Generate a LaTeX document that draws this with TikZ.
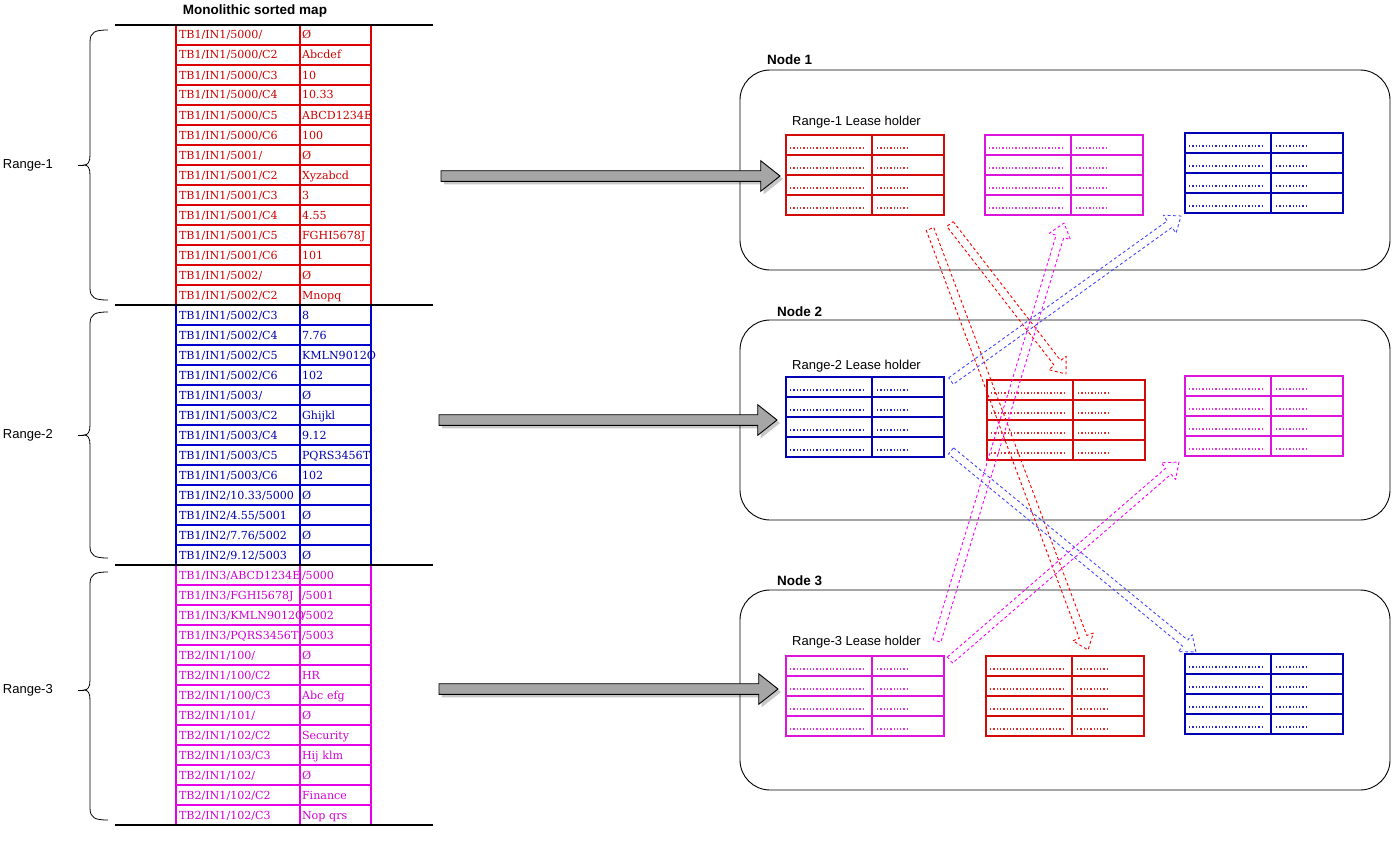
\documentclass[tikz,border=0pt]{standalone}
\usepackage{fontspec}
\setmainfont{Liberation Sans}
\newfontfamily\cellfont{DejaVu Serif}
\usetikzlibrary{calc}

\definecolor{mapred}{RGB}{221,0,0}
\definecolor{mapredtxt}{RGB}{204,0,0}
\definecolor{mapblue}{RGB}{0,0,204}
\definecolor{mapbluetxt}{RGB}{0,0,170}
\definecolor{mapmag}{RGB}{230,0,230}
\definecolor{mapmagtxt}{RGB}{210,0,210}
\definecolor{lhred}{RGB}{210,10,10}
\definecolor{lhblue}{RGB}{0,0,180}
\definecolor{lhmag}{RGB}{220,20,220}
\definecolor{arrowgray}{RGB}{166,166,166}
\definecolor{dashred}{RGB}{255,0,0}
\definecolor{dashmag}{RGB}{255,0,255}
\definecolor{dashblue}{RGB}{70,70,255}

\tikzset{
  cell/.style={draw, line width=1.6pt, outer sep=0pt, minimum height=20pt,
    inner ysep=0pt, inner xsep=3pt, text height=9.5pt, text depth=1.5pt,
    align=left, font=\cellfont\fontsize{11.1}{13}\selectfont},
  keycell/.style={cell, text width=118pt},
  valcell/.style={cell, inner xsep=2pt, text width=67pt},
  redrow/.style={draw=mapred, text=mapredtxt},
  bluerow/.style={draw=mapblue, text=mapbluetxt},
  magrow/.style={draw=mapmag, text=mapmagtxt},
  sepline/.style={line width=2.6pt, black},
  brace/.style={line width=0.8pt, black},
  rangelabel/.style={anchor=east, inner sep=1pt, font=\fontsize{13}{15}\selectfont},
  nodebox/.style={draw, line width=0.9pt, rounded corners=30pt, minimum width=650pt,
    minimum height=200pt, outer sep=0pt},
  nodetitle/.style={anchor=base west, inner sep=0pt, font=\bfseries\fontsize{13.5}{16}\selectfont},
  leaselabel/.style={anchor=base west, inner sep=0pt, font=\fontsize{13}{15}\selectfont},
  leasebox/.style={line width=1.6pt, minimum width=158pt, minimum height=80pt,
    inner sep=0pt, outer sep=0pt},
  leasedots/.style={line width=1.3pt, dash pattern=on 1.3pt off 2pt},
  feed/.style={fill=arrowgray, draw=black, line width=0.9pt, line join=miter},
  feedshadow/.style={fill=black, opacity=0.22},
  replica/.style={line width=0.9pt, dash pattern=on 3pt off 2.5pt, line join=round},
}

% one key/value row of the sorted map
\newcommand\maprow[4]{%
  \node[keycell,#2] (k#1) at (238,{35+20*#1}) {\mbox{#3}};
  \node[valcell,#2] (v#1) at (335.5,{35+20*#1}) {\mbox{#4}};}

% curly bracket: top, bottom, middle
\newcommand\rangebrace[3]{%
  \draw[brace] (108,#1) .. controls (95,#1) and (90,#1+2) .. (90,#1+12)
    -- (90,#3-10) .. controls (90,#3-3) and (88,#3) .. (84,#3)
    .. controls (88,#3) and (90,#3+3) .. (90,#3+10)
    -- (90,#2-12) .. controls (90,#2-2) and (95,#2) .. (108,#2);
  \draw[brace] (84,#3) -- (78,#3);}

% 4x2 lease-holder table: name, left, top, colour
\newcommand\leasetable[4]{%
  \node[leasebox, draw=#4, anchor=north west] (#1) at (#2,#3) {};
  \draw[#4, line width=1.6pt] ($(#1.north west)+(86,0)$) -- ($(#1.south west)+(86,0)$);
  \foreach \r in {20,40,60}
    \draw[#4, line width=1.6pt] ($(#1.north west)+(0,\r)$) -- ($(#1.north east)+(0,\r)$);
  \foreach \r in {13,33,53,73} {
    \draw[#4!85!white, leasedots] ($(#1.north west)+(4,\r)$) -- ($(#1.north west)+(77,\r)$);
    \draw[#4!85!white, leasedots] ($(#1.north west)+(91,\r)$) -- ($(#1.north west)+(123,\r)$);
  }}

% thick grey block arrow from tail to tip (horizontal)
\newcommand\feedarrow[2]{%
  \foreach \sty/\off in {feedshadow/3, feed/0}
    \path[\sty] ($(#1)+(\off,\off-5.3)$) -- ($(#2)+(\off-19.3,\off-5.3)$)
      -- ($(#2)+(\off-19.3,\off-15.3)$) -- ($(#2)+(\off,\off)$)
      -- ($(#2)+(\off-19.3,\off+15.3)$) -- ($(#2)+(\off-19.3,\off+5.3)$)
      -- ($(#1)+(\off,\off+5.3)$) -- cycle;}

% hollow dashed arrow: style, tail, tip
\newcommand\flexarrow[3]{%
  \path ($(#3)!14pt!(#2)$) coordinate (fh);
  \draw[replica,#1] ($(#2)!4pt!90:(#3)$) -- ($(fh)!4pt!90:(#3)$)
    -- ($(fh)!11pt!90:(#3)$) -- (#3) -- ($(fh)!11pt!-90:(#3)$)
    -- ($(fh)!4pt!-90:(#3)$) -- ($(#2)!4pt!-90:(#3)$) -- cycle;}

\begin{document}
\begin{tikzpicture}[x=1pt,y=-1pt]
\useasboundingbox (0,0) rectangle (1392,843);

% ---------- sorted map ----------
\node[font=\bfseries\fontsize{13.5}{16}\selectfont] (title) at (255,11) {Monolithic sorted map};

\maprow{0}{redrow}{TB1/IN1/5000/}{Ø}
\maprow{1}{redrow}{TB1/IN1/5000/C2}{Abcdef}
\maprow{2}{redrow}{TB1/IN1/5000/C3}{10}
\maprow{3}{redrow}{TB1/IN1/5000/C4}{10.33}
\maprow{4}{redrow}{TB1/IN1/5000/C5}{ABCD1234E}
\maprow{5}{redrow}{TB1/IN1/5000/C6}{100}
\maprow{6}{redrow}{TB1/IN1/5001/}{Ø}
\maprow{7}{redrow}{TB1/IN1/5001/C2}{Xyzabcd}
\maprow{8}{redrow}{TB1/IN1/5001/C3}{3}
\maprow{9}{redrow}{TB1/IN1/5001/C4}{4.55}
\maprow{10}{redrow}{TB1/IN1/5001/C5}{FGHI5678J}
\maprow{11}{redrow}{TB1/IN1/5001/C6}{101}
\maprow{12}{redrow}{TB1/IN1/5002/}{Ø}
\maprow{13}{redrow}{TB1/IN1/5002/C2}{Mnopq}

\maprow{14}{bluerow}{TB1/IN1/5002/C3}{8}
\maprow{15}{bluerow}{TB1/IN1/5002/C4}{7.76}
\maprow{16}{bluerow}{TB1/IN1/5002/C5}{KMLN9012O}
\maprow{17}{bluerow}{TB1/IN1/5002/C6}{102}
\maprow{18}{bluerow}{TB1/IN1/5003/}{Ø}
\maprow{19}{bluerow}{TB1/IN1/5003/C2}{Ghijkl}
\maprow{20}{bluerow}{TB1/IN1/5003/C4}{9.12}
\maprow{21}{bluerow}{TB1/IN1/5003/C5}{PQRS3456T}
\maprow{22}{bluerow}{TB1/IN1/5003/C6}{102}
\maprow{23}{bluerow}{TB1/IN2/10.33/5000}{Ø}
\maprow{24}{bluerow}{TB1/IN2/4.55/5001}{Ø}
\maprow{25}{bluerow}{TB1/IN2/7.76/5002}{Ø}
\maprow{26}{bluerow}{TB1/IN2/9.12/5003}{Ø}

\maprow{27}{magrow}{TB1/IN3/ABCD1234E}{/5000}
\maprow{28}{magrow}{TB1/IN3/FGHI5678J}{/5001}
\maprow{29}{magrow}{TB1/IN3/KMLN9012O}{/5002}
\maprow{30}{magrow}{TB1/IN3/PQRS3456T}{/5003}
\maprow{31}{magrow}{TB2/IN1/100/}{Ø}
\maprow{32}{magrow}{TB2/IN1/100/C2}{HR}
\maprow{33}{magrow}{TB2/IN1/100/C3}{Abc efg}
\maprow{34}{magrow}{TB2/IN1/101/}{Ø}
\maprow{35}{magrow}{TB2/IN1/102/C2}{Security}
\maprow{36}{magrow}{TB2/IN1/103/C3}{Hij klm}
\maprow{37}{magrow}{TB2/IN1/102/}{Ø}
\maprow{38}{magrow}{TB2/IN1/102/C2}{Finance}
\maprow{39}{magrow}{TB2/IN1/102/C3}{Nop qrs}

% range boundaries
\foreach \y in {25,305,565,825}
  \draw[sepline] (115,\y) -- (433,\y);

% range brackets and labels
\rangebrace{30}{300}{165}
\rangebrace{312}{558}{435}
\rangebrace{572}{820}{690}
\node[rangelabel] (range1) at (54,165) {Range-1};
\node[rangelabel] (range2) at (54,435) {Range-2};
\node[rangelabel] (range3) at (54,690) {Range-3};

% ---------- cluster nodes ----------
\node[nodebox] (node1) at (1065,170) {};
\node[nodebox] (node2) at (1065,420) {};
\node[nodebox] (node3) at (1065,690) {};
\node[nodetitle] (node1lbl) at (767,65) {Node 1};
\node[nodetitle] (node2lbl) at (777,316) {Node 2};
\node[nodetitle] (node3lbl) at (777,585) {Node 3};

\node[leaselabel] (lease1) at (792,125) {Range-1 Lease holder};
\node[leaselabel] (lease2) at (792,369) {Range-2 Lease holder};
\node[leaselabel] (lease3) at (792,645) {Range-3 Lease holder};

\leasetable{n1red}{786}{135}{lhred}
\leasetable{n1mag}{985}{135}{lhmag}
\leasetable{n1blue}{1185}{133}{lhblue}
\leasetable{n2blue}{786}{377}{lhblue}
\leasetable{n2red}{987}{380}{lhred}
\leasetable{n2mag}{1185}{376}{lhmag}
\leasetable{n3mag}{786}{656}{lhmag}
\leasetable{n3red}{986}{656}{lhred}
\leasetable{n3blue}{1185}{654}{lhblue}

% ---------- ranges handed to their lease holders ----------
\coordinate (feed1s) at (441,176);
\coordinate (feed1e) at (780,176);
\coordinate (feed2s) at (439,420);
\coordinate (feed2e) at (777,420);
\coordinate (feed3s) at (439,689);
\coordinate (feed3e) at (778,689);
\feedarrow{feed1s}{feed1e}
\feedarrow{feed2s}{feed2e}
\feedarrow{feed3s}{feed3e}

% ---------- replication to followers ----------
\coordinate (r1a) at (930,229);
\coordinate (r1b) at (1088,650);
\coordinate (r2a) at (950,224);
\coordinate (r2b) at (1066,374);
\coordinate (m1a) at (937,641);
\coordinate (m1b) at (1064,223);
\coordinate (m2a) at (950,660);
\coordinate (m2b) at (1179,462);
\coordinate (b1a) at (951,381);
\coordinate (b1b) at (1181,216);
\coordinate (b2a) at (951,451);
\coordinate (b2b) at (1196,652);
\flexarrow{dashred}{r1a}{r1b}
\flexarrow{dashred}{r2a}{r2b}
\flexarrow{dashmag}{m1a}{m1b}
\flexarrow{dashmag}{m2a}{m2b}
\flexarrow{dashblue}{b1a}{b1b}
\flexarrow{dashblue}{b2a}{b2b}
\end{tikzpicture}
\end{document}
